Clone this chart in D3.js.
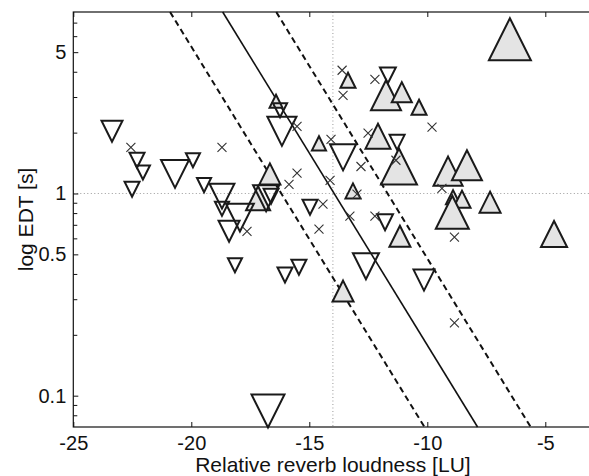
<!DOCTYPE html>
<html>
<head>
<meta charset="utf-8">
<script src="https://cdn.jsdelivr.net/npm/d3@7"></script>
<style>
  body { margin: 0; background: #fff; }
  svg { display: block; font-family: "Liberation Sans", Arial, sans-serif; }
</style>
</head>
<body>
<svg id="chart" width="589" height="476"></svg>
<script>
// open down-triangles
const downX = [-23.36, -22.30, -22.05, -22.51, -20.69, -19.93, -19.46, -18.70, -18.70, -17.94,
               -18.40, -18.15, -16.03, -15.44, -16.75, -16.83, -16.62, -16.24, -16.16, -11.67,
               -13.57, -11.28, -14.97, -11.79, -12.60, -10.14];
const downY = [2.03, 1.46, 1.27, 1.05, 1.25, 1.46, 1.10, 0.97, 0.84, 0.76,
               0.65, 0.442, 0.395, 0.432, 0.084, 0.948, 0.97, 2.58, 2.03, 3.84,
               1.51, 1.79, 0.856, 0.721, 0.437, 0.373];
const downW = [7, 5, 4.7, 5, 9.3, 4.7, 4.7, 8.3, 4.7, 9.3,
               7, 4.7, 5, 5, 11, 8.7, 5, 4.7, 9.7, 5.3,
               8.7, 5, 5, 5.3, 8.7, 7];

// grey up-triangles
const upX = [-16.41, -13.36, -11.75, -11.08, -10.35, -14.59, -12.09, -11.20, -13.15, -9.12,
             -8.32, -8.91, -8.53, -8.94, -7.34, -4.63, -6.50, -11.16, -13.57, -16.67, -17.17];
const upY = [2.86, 3.63, 3.06, 3.17, 2.67, 1.77, 1.92, 1.36, 1.03, 1.29,
             1.38, 0.959, 0.937, 0.808, 0.906, 0.63, 5.79, 0.615, 0.329, 1.25, 0.948];
const upW = [4.3, 5, 10, 6.7, 5, 4.7, 8.3, 12, 5, 9.7,
             10, 4.7, 5.7, 11, 7, 8.7, 14, 7, 7, 7, 8];

// crosses
const crossX = [-22.56, -18.70, -17.64, -13.61, -13.57, -12.22, -9.80, -15.52, -15.52, -15.86,
                -14.12, -14.08, -12.51, -12.81, -11.33, -12.98, -14.42, -13.28, -12.22, -14.59,
                -9.38, -8.85, -8.85];
const crossY = [1.69, 1.69, 0.65, 4.07, 3.06, 3.67, 2.13, 2.15, 1.26, 1.11,
                1.16, 1.85, 1.99, 1.36, 1.46, 0.992, 0.885, 0.773, 0.773, 0.666,
                1.06, 0.608, 0.229];

// fitted line and its bounds (x at the top and bottom of the y range)
const lineTopY = 7.9, lineBotY = 0.07;
const fitX = [-18.67, -7.87];
const lowX = [-20.90, -10.12];
const highX = [-16.40, -5.62];

const xTicks = [-25, -20, -15, -10, -5];
const yTicks = [0.1, 0.5, 1, 5];
const yMinor = [0.08, 0.09, 0.2, 0.3, 0.4, 0.6, 0.7, 0.8, 0.9, 2, 3, 4, 6, 7];

const svg = d3.select("#chart");
const mLeft = 73.3, mTop = 12, mRight = 592.5, mBottom = 427;

const x = d3.scaleLinear().domain([-25, -3]).range([mLeft, mRight]);
const y = d3.scaleLog().domain([0.07, 7.9]).range([mBottom, mTop]);
const size = d3.scaleLinear().domain([0, 10]).range([0, 30]);

const plot = svg.append("g");

// dotted reference lines
plot.append("line")
    .attr("x1", x(-14)).attr("x2", x(-14))
    .attr("y1", mTop).attr("y2", mBottom)
    .attr("stroke", "#999").attr("stroke-width", 1).attr("stroke-dasharray", "1,2.5");
plot.append("line")
    .attr("x1", mLeft).attr("x2", mRight)
    .attr("y1", y(1)).attr("y2", y(1))
    .attr("stroke", "#999").attr("stroke-width", 1).attr("stroke-dasharray", "1,2.5");

// regression line + dashed bounds
const drawLine = function (xs, dash, w) {
    plot.append("line")
        .attr("x1", x(xs[0])).attr("y1", y(lineTopY))
        .attr("x2", x(xs[1])).attr("y2", y(lineBotY))
        .attr("stroke", "#111")
        .attr("stroke-width", w)
        .attr("stroke-dasharray", dash);
};
drawLine(fitX, null, 1.6);
drawLine(lowX, "6,4", 2);
drawLine(highX, "6,4", 2);

function tri(s, up) {
    const h = s / 2;
    return up
        ? `M0,${-h}L${h},${h}L${-h},${h}Z`
        : `M${-h},${-h}L${h},${-h}L0,${h}Z`;
}

// grey up-triangles
plot.append("g")
    .selectAll("path")
    .data(d3.range(upX.length))
    .enter()
    .append("path")
    .attr("transform", i => `translate(${x(upX[i])},${y(upY[i])})`)
    .attr("d", i => tri(size(upW[i]), true))
    .attr("fill", "#e4e4e4")
    .attr("stroke", "#1a1a1a")
    .attr("stroke-width", 2)
    .attr("stroke-linejoin", "miter");

// open down-triangles
plot.append("g")
    .selectAll("path")
    .data(d3.range(downX.length))
    .enter()
    .append("path")
    .attr("transform", i => `translate(${x(downX[i])},${y(downY[i])})`)
    .attr("d", i => tri(size(downW[i]), false))
    .attr("fill", "none")
    .attr("stroke", "#1a1a1a")
    .attr("stroke-width", 2)
    .attr("stroke-linejoin", "miter");

// crosses
plot.append("g")
    .selectAll("path")
    .data(d3.range(crossX.length))
    .enter()
    .append("path")
    .attr("transform", i => `translate(${x(crossX[i])},${y(crossY[i])})`)
    .attr("d", "M-4.5,-4.5L4.5,4.5M-4.5,4.5L4.5,-4.5")
    .attr("stroke", "#333")
    .attr("stroke-width", 1.1);

// axes: box with inward ticks
const axes = svg.append("g");
axes.append("g")
    .attr("transform", `translate(0,${mBottom})`)
    .call(d3.axisBottom(x).tickValues(xTicks).tickSize(-5).tickPadding(9).tickFormat(d => String(d)));
axes.append("g")
    .attr("transform", `translate(0,${mTop})`)
    .call(d3.axisTop(x).tickValues(xTicks).tickSize(-5).tickFormat(""));
axes.append("g")
    .attr("transform", `translate(${mLeft},0)`)
    .call(d3.axisLeft(y).tickValues(yTicks).tickSize(-5).tickPadding(7).tickFormat(d => String(d)));
axes.append("g")
    .attr("transform", `translate(${mLeft},0)`)
    .call(d3.axisLeft(y).tickValues(yMinor).tickSize(-4).tickFormat(""));

axes.selectAll(".domain").remove();
axes.selectAll(".tick line").attr("stroke", "#111");
axes.selectAll("text")
    .attr("fill", "#111")
    .style("font-size", "20px")
    .style("font-family", "'Liberation Sans', Arial, sans-serif");

axes.append("rect")
    .attr("x", mLeft).attr("y", mTop)
    .attr("width", mRight - mLeft).attr("height", mBottom - mTop)
    .attr("fill", "none").attr("stroke", "#111").attr("stroke-width", 1.2);

svg.append("text")
    .attr("x", (mLeft + mRight) / 2)
    .attr("y", 472)
    .attr("text-anchor", "middle")
    .style("font-size", "21px")
    .attr("fill", "#111")
    .text("Relative reverb loudness [LU]");

svg.append("text")
    .attr("transform", `translate(33,${(mTop + mBottom) / 2}) rotate(-90)`)
    .attr("text-anchor", "middle")
    .style("font-size", "21px")
    .attr("fill", "#111")
    .text("log EDT [s]");
</script>
</body>
</html>
